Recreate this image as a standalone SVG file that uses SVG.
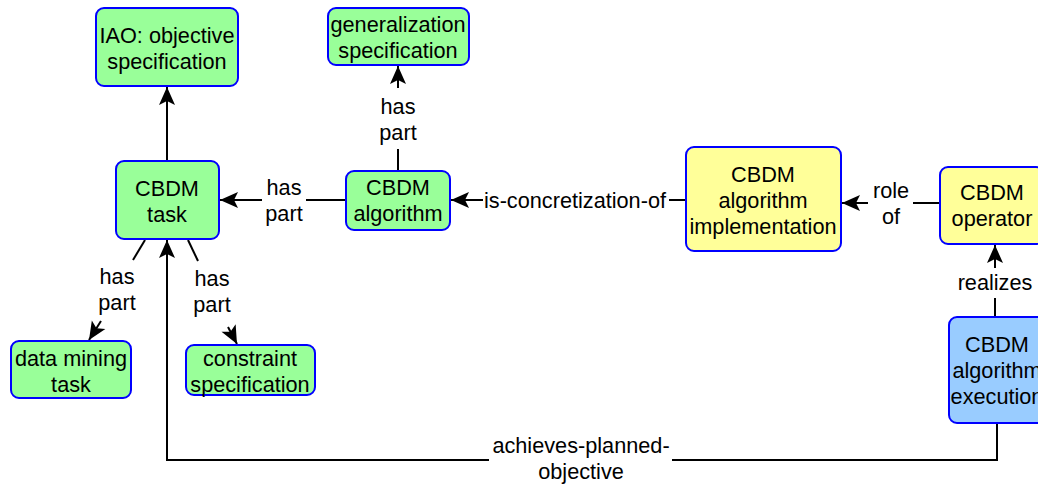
<svg xmlns="http://www.w3.org/2000/svg" width="1038" height="488" viewBox="0 0 1038 488">
  <style>
    .box { stroke: #0000ff; stroke-width: 2; }
    .green { fill: #99ff99; }
    .yellow { fill: #ffff99; }
    .blue { fill: #99ccff; }
    text { font-family: "Liberation Sans", Arial, sans-serif; font-size: 21.7px; fill: #000; text-anchor: middle; }
    .edge { fill: none; stroke: #000; stroke-width: 2; }
  </style>
  <defs>
    <!-- filled arrowhead with a notched back -->
    <marker id="arrow" viewBox="-19 -9 20 18" refX="0" refY="0" markerWidth="20" markerHeight="18" markerUnits="userSpaceOnUse" orient="auto">
      <path d="M0,0 L-18,-8 L-14,0 L-18,8 Z" fill="#000"/>
    </marker>
  </defs>
  <rect width="1038" height="488" fill="#fff"/>

  <g id="connectors">
    <!-- task is_a objective -->
    <path class="edge" d="M167,161 L167,87" marker-end="url(#arrow)"/>
    <!-- algorithm has part task -->
    <path class="edge" d="M346,200 L306,200"/>
    <path class="edge" d="M262,200 L220,200" marker-end="url(#arrow)"/>
    <text x="284" y="195">has</text>
    <text x="284" y="221">part</text>
    <!-- algorithm has part generalization -->
    <path class="edge" d="M398,171 L398,149"/>
    <path class="edge" d="M398,88 L398,66" marker-end="url(#arrow)"/>
    <text x="398" y="114">has</text>
    <text x="398" y="140">part</text>
    <!-- implementation concretizes algorithm -->
    <path class="edge" d="M686,200 L669,200"/>
    <path class="edge" d="M483,200 L451,200" marker-end="url(#arrow)"/>
    <text x="575" y="208">is-concretization-of</text>
    <!-- operator role of implementation -->
    <path class="edge" d="M940,203 L913,203"/>
    <path class="edge" d="M868,203 L842,203" marker-end="url(#arrow)"/>
    <text x="891" y="198">role</text>
    <text x="891" y="224">of</text>
    <!-- execution realizes operator -->
    <path class="edge" d="M995,316 L995,298"/>
    <path class="edge" d="M995,268 L995,245" marker-end="url(#arrow)"/>
    <text x="995" y="290">realizes</text>
    <!-- execution achieves planned objective of task -->
    <path class="edge" d="M997,424 L997,460 L672,460"/>
    <path class="edge" d="M489,460 L167,460 L167,240" marker-end="url(#arrow)"/>
    <text x="581" y="453">achieves-planned-</text>
    <text x="581" y="479">objective</text>
    <!-- task has part data mining task -->
    <path class="edge" d="M145,240 L133,260"/>
    <path class="edge" d="M101,321 L89,340" marker-end="url(#arrow)"/>
    <text x="117" y="284">has</text>
    <text x="117" y="310">part</text>
    <!-- task has part constraint specification -->
    <path class="edge" d="M188,240 L198,261"/>
    <path class="edge" d="M228,327 L237,344" marker-end="url(#arrow)"/>
    <text x="212" y="286">has</text>
    <text x="212" y="312">part</text>
  </g>

  <g id="iao-objective">
    <rect class="box green" x="96" y="8" width="142" height="78" rx="8"/>
    <text x="167" y="43">IAO: objective</text>
    <text x="167" y="69">specification</text>
  </g>
  <g id="generalization-spec">
    <rect class="box green" x="328" y="8" width="141" height="57" rx="8"/>
    <text x="398" y="32">generalization</text>
    <text x="398" y="58">specification</text>
  </g>
  <g id="cbdm-task">
    <rect class="box green" x="116" y="161" width="103" height="78" rx="8"/>
    <text x="167" y="196">CBDM</text>
    <text x="167" y="222">task</text>
  </g>
  <g id="cbdm-algorithm">
    <rect class="box green" x="346" y="171" width="104" height="59" rx="8"/>
    <text x="398" y="195">CBDM</text>
    <text x="398" y="221">algorithm</text>
  </g>
  <g id="cbdm-implementation">
    <rect class="box yellow" x="686" y="147" width="155" height="104" rx="8"/>
    <text x="763" y="182">CBDM</text>
    <text x="763" y="208">algorithm</text>
    <text x="763" y="234">implementation</text>
  </g>
  <g id="cbdm-operator">
    <rect class="box yellow" x="940" y="167" width="104" height="77" rx="8"/>
    <text x="992" y="200">CBDM</text>
    <text x="992" y="226">operator</text>
  </g>
  <g id="cbdm-execution">
    <rect class="box blue" x="949" y="317" width="96" height="106" rx="8"/>
    <text x="997" y="352">CBDM</text>
    <text x="997" y="378">algorithm</text>
    <text x="997" y="404">execution</text>
  </g>
  <g id="data-mining-task">
    <rect class="box green" x="11" y="341" width="120" height="57" rx="8"/>
    <text x="71" y="366">data mining</text>
    <text x="71" y="392">task</text>
  </g>
  <g id="constraint-spec">
    <rect class="box green" x="186" y="345" width="129" height="50" rx="8"/>
    <text x="250" y="366">constraint</text>
    <text x="250" y="392">specification</text>
  </g>
</svg>
